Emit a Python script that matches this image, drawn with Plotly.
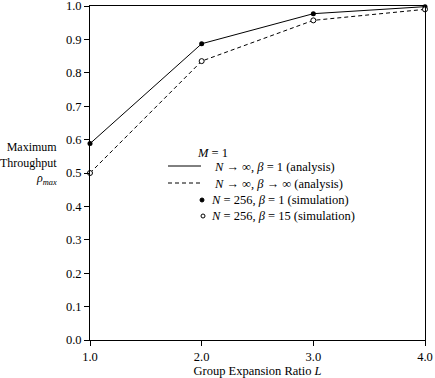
import plotly.graph_objects as go

L = [1.0, 2.0, 3.0, 4.0]
analysis_beta1 = [0.588, 0.887, 0.977, 0.998]
analysis_betainf = [0.500, 0.835, 0.957, 0.990]
sim_beta1 = [0.588, 0.887, 0.977, 0.998]
sim_beta15 = [0.500, 0.835, 0.957, 0.990]

x_ticks = [1.0, 2.0, 3.0, 4.0]
y_ticks = [0.0, 0.1, 0.2, 0.3, 0.4, 0.5, 0.6, 0.7, 0.8, 0.9, 1.0]

FONT = "Liberation Serif"

fig = go.Figure()
fig.add_trace(go.Scatter(x=L, y=analysis_beta1, mode="lines",
                         line=dict(color="black", width=1), showlegend=False))
fig.add_trace(go.Scatter(x=L, y=analysis_betainf, mode="lines",
                         line=dict(color="black", width=1, dash="4px,3px"), showlegend=False))
fig.add_trace(go.Scatter(x=L, y=sim_beta1, mode="markers",
                         marker=dict(symbol="circle", size=5, color="black"),
                         cliponaxis=False, showlegend=False))
fig.add_trace(go.Scatter(x=L, y=sim_beta15, mode="markers",
                         marker=dict(symbol="circle", size=5, color="white",
                                     line=dict(color="black", width=1)),
                         cliponaxis=False, showlegend=False))

# legend drawn manually
def px2x(px):
    return (px - 90) / 335.0

def py2y(py):
    return (340 - py) / 334.0

ann = []
def txt(text, px, py, anchor="left"):
    ann.append(dict(text=text, x=px2x(px), y=py2y(py), xref="paper", yref="paper",
                    xanchor=anchor, yanchor="middle", showarrow=False,
                    font=dict(family=FONT, size=12.5, color="black")))

txt("<i>M</i> = 1", 195, 153)
txt("<i>N</i> → ∞, <i>β</i> = 1 (analysis)", 212, 167)
txt("<i>N</i> → ∞, <i>β</i> → ∞ (analysis)", 212, 184)
txt("<i>N</i> = 256, <i>β</i> = 1 (simulation)", 209, 200)
txt("<i>N</i> = 256, <i>β</i> = 15 (simulation)", 209, 216)

shapes = [
    dict(type="line", xref="paper", yref="paper", x0=px2x(168), x1=px2x(201),
         y0=py2y(166), y1=py2y(166), line=dict(color="black", width=1)),
    dict(type="line", xref="paper", yref="paper", x0=px2x(168), x1=px2x(201),
         y0=py2y(183), y1=py2y(183), line=dict(color="black", width=1, dash="4px,3px")),
    dict(type="circle", xref="paper", yref="paper", x0=px2x(200), x1=px2x(204),
         y0=py2y(202), y1=py2y(198), fillcolor="black", line=dict(color="black", width=1)),
    dict(type="circle", xref="paper", yref="paper", x0=px2x(201), x1=px2x(205),
         y0=py2y(218), y1=py2y(214), fillcolor="white", line=dict(color="black", width=1)),
]

# y-axis title
ann.append(dict(text="Maximum<br>Throughput<br><i>ρ<sub>max</sub></i>",
                x=px2x(58), y=py2y(163), xref="paper", yref="paper",
                xanchor="right", yanchor="middle", align="right", showarrow=False,
                borderpad=0, font=dict(family=FONT, size=12, color="black")))

fig.update_layout(
    width=435, height=378,
    margin=dict(l=90, r=10, t=6, b=38, autoexpand=False),
    paper_bgcolor="white", plot_bgcolor="white",
    font=dict(family=FONT, size=12.5, color="black"),
    annotations=ann, shapes=shapes,
    xaxis=dict(range=[1, 4], tickvals=x_ticks, ticktext=[f"{v:.1f}" for v in x_ticks],
               ticks="outside", ticklen=5, tickcolor="black", showgrid=False, zeroline=False,
               showline=True, linecolor="black", linewidth=1, mirror=True, automargin=False,
               ticklabeloverflow="allow",
               title=dict(text="Group Expansion Ratio <i>L</i>", standoff=6,
                          font=dict(family=FONT, size=12.5))),
    yaxis=dict(range=[0, 1], tickvals=y_ticks, ticktext=[f"{v:.1f}" for v in y_ticks],
               ticks="outside", ticklen=5, tickcolor="black", showgrid=False, zeroline=False,
               showline=True, linecolor="black", linewidth=1, mirror=True, automargin=False,
               ticklabeloverflow="allow"),
)

fig.write_html("out.html", config={"displayModeBar": False},
               post_script="document.body.style.margin='0';")
